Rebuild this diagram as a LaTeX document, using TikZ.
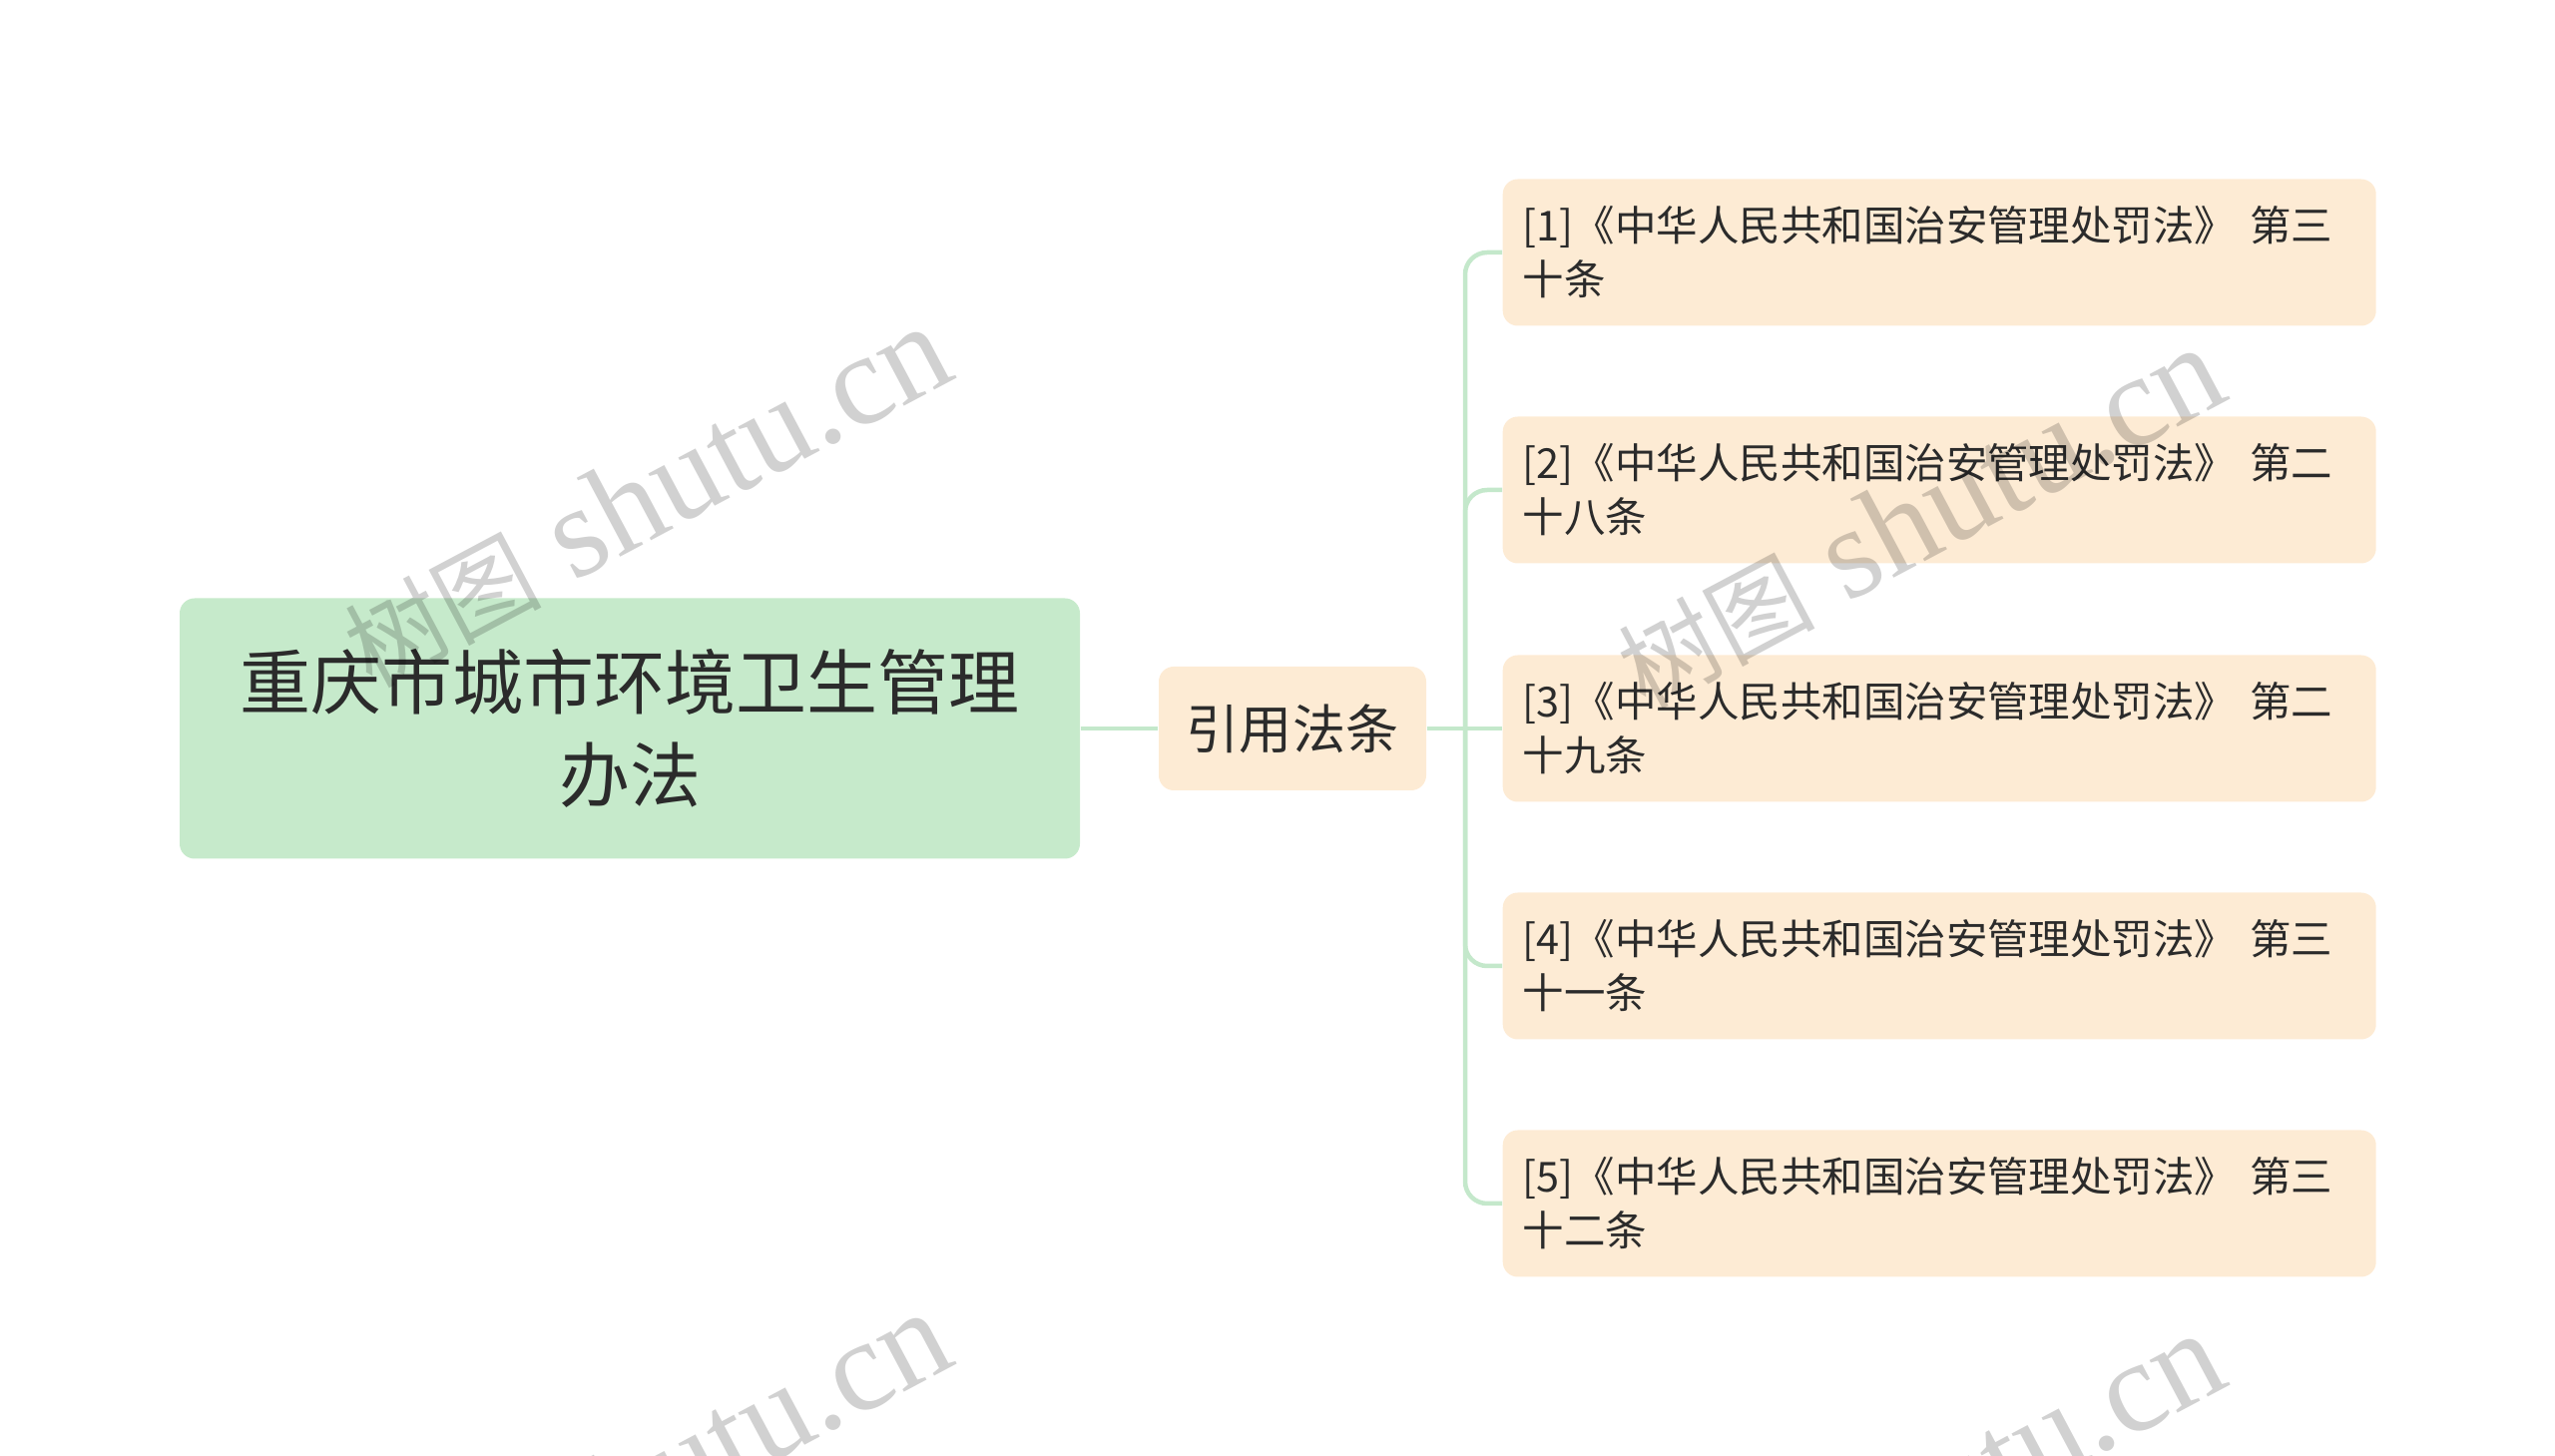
\documentclass[tikz,border=0pt]{standalone}
\usepackage{fontspec}
\setmainfont{Noto Sans CJK SC}
\newfontfamily\wmserif{Liberation Serif}
\usepackage{xcolor}
\usetikzlibrary{calc}

\definecolor{rootgreen}{HTML}{C6EACB}
\definecolor{citepeach}{HTML}{FDEBD4}
\definecolor{linkgreen}{HTML}{C4E8CB}
\definecolor{inkgray}{HTML}{2B2B2B}

\newcommand{\wmtext}{{\fontsize{28}{28}\selectfont 树图}{\wmserif\fontsize{37}{37}\selectfont\ shutu.cn}}

\tikzset{
  rootbox/.style={fill=rootgreen, rounded corners=0.15cm, text=inkgray, align=center,
    minimum width=9.02cm, minimum height=2.61cm,
    font=\fontsize{20.2}{26.5}\selectfont},
  citebox/.style={fill=citepeach, rounded corners=0.15cm, text=inkgray,
    minimum width=2.68cm, minimum height=1.24cm,
    font=\fontsize{15.1}{18}\selectfont},
  lawbox/.style={fill=citepeach, rounded corners=0.15cm, text=inkgray, anchor=west,
    align=left, text width=8.35cm, inner xsep=0.2cm, minimum height=1.47cm,
    font=\fontsize{11.8}{15.4}\selectfont},
  link/.style={draw=linkgreen, line width=0.045cm},
  wmark/.style={rotate=28, text=black, opacity=0.18, inner sep=0pt}
}

\begin{document}
\begin{tikzpicture}[x=1cm, y=-1cm]
        \useasboundingbox (0,0) rectangle (25.6,14.59);
        \clip (0,0) rectangle (25.6,14.59);

        \node[rootbox] (root) at (6.31,7.30) {重庆市城市环境卫生管理\\办法};
        \node[citebox] (cite) at (12.95,7.30) {引用法条};

        \node[lawbox] (law1) at (15.05,2.53) {[1]《中华人民共和国治安管理处罚法》 第三\\十条};
        \node[lawbox] (law2) at (15.05,4.91) {[2]《中华人民共和国治安管理处罚法》 第二\\十八条};
        \node[lawbox] (law3) at (15.05,7.30) {[3]《中华人民共和国治安管理处罚法》 第二\\十九条};
        \node[lawbox] (law4) at (15.05,9.68) {[4]《中华人民共和国治安管理处罚法》 第三\\十一条};
        \node[lawbox] (law5) at (15.05,12.06) {[5]《中华人民共和国治安管理处罚法》 第三\\十二条};

        \coordinate (fork) at (14.68,7.30);

        \draw[link] (root.east) -- (cite.west);
        \draw[link] (cite.east) -- (fork) -- (law3.west);
        \foreach \leaf in {law1,law2,law4,law5}
            \draw[link, rounded corners=0.22cm] (fork) -- (fork |- \leaf.west) -- (\leaf.west);

        \node[wmark] (wm1) at (6.47,4.98) {\wmtext};
        \node[wmark] (wm2) at (19.23,5.19) {\wmtext};
        \node[wmark] (wm3) at (6.47,14.86) {\wmtext};
        \node[wmark] (wm4) at (19.23,15.07) {\wmtext};
\end{tikzpicture}
\end{document}
